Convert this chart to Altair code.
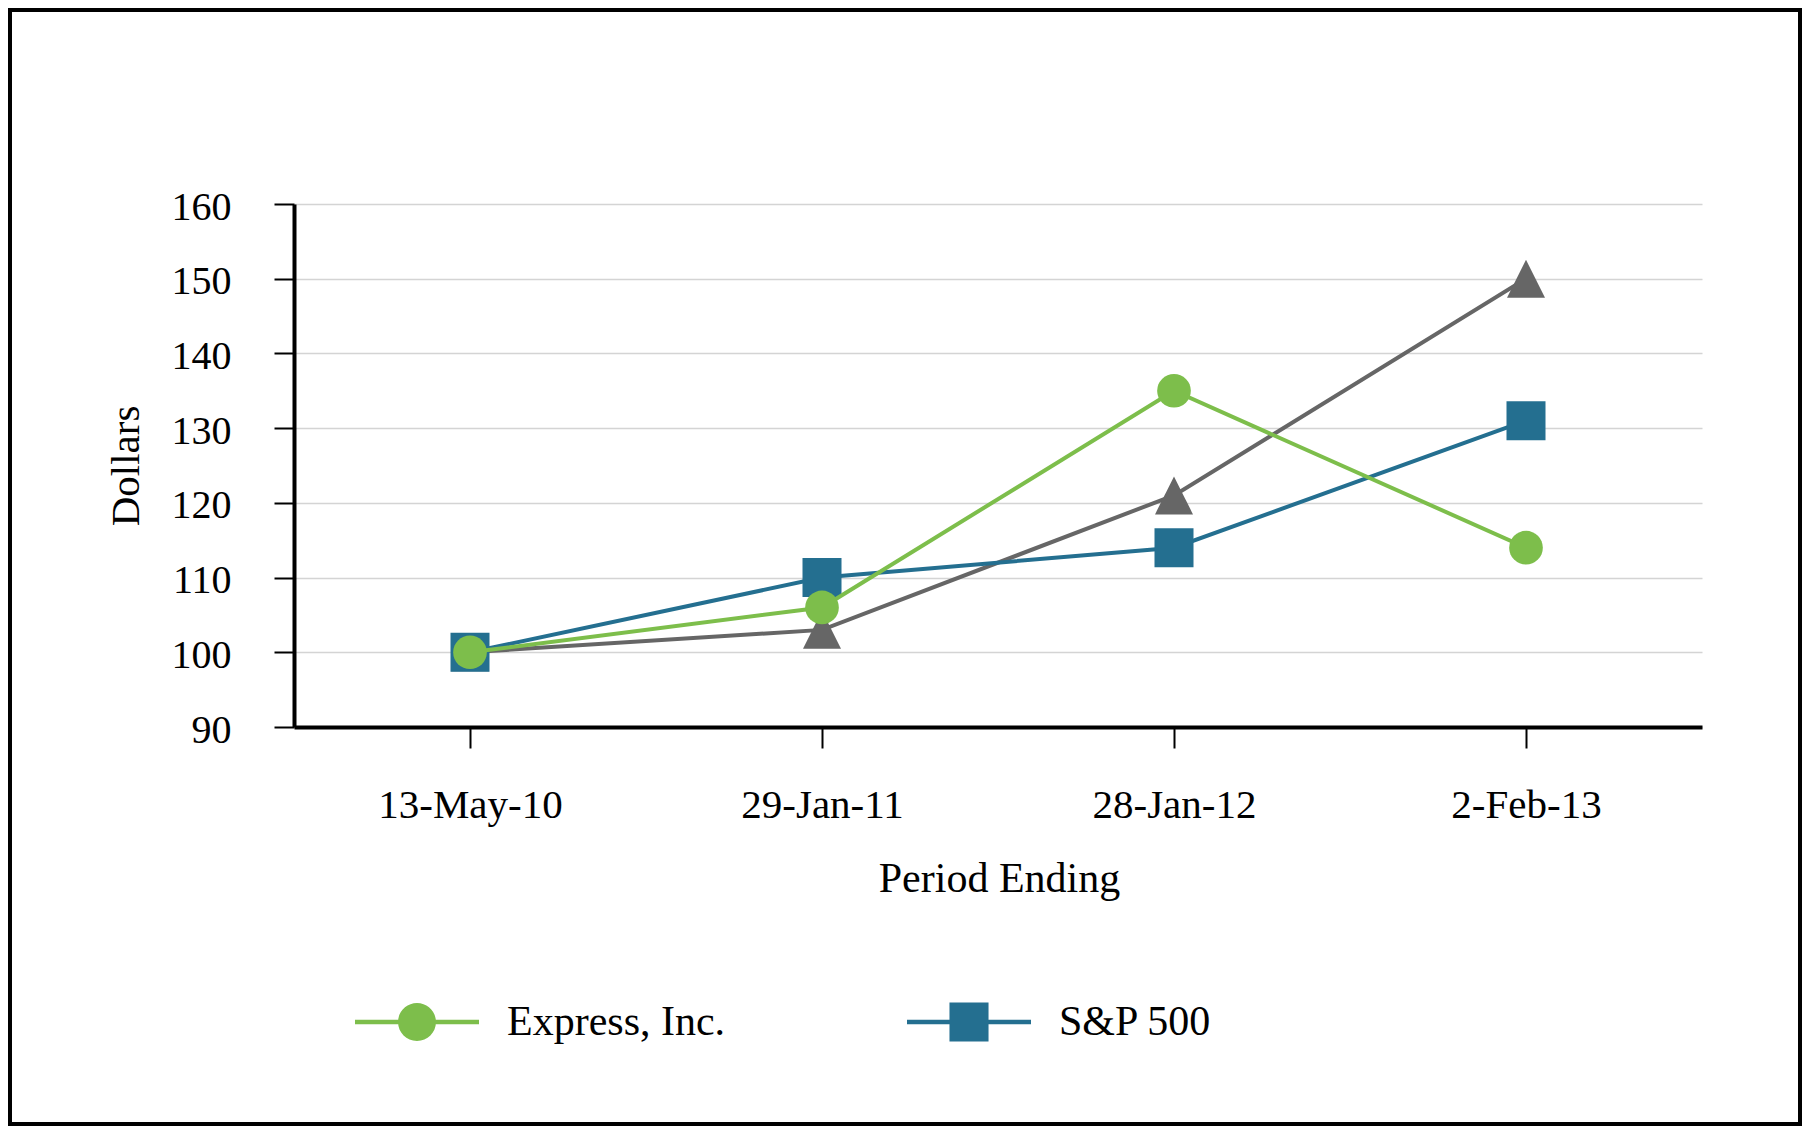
import altair as alt
import pandas as pd

# ---- data ----
periods = ["13-May-10", "29-Jan-11", "28-Jan-12", "2-Feb-13"]
express = [100, 106, 135, 114]
sp500 = [100, 110, 114, 131]
peer = [100, 103, 121, 150]
legend_names = ["Express, Inc.", "S&P 500"]

GREEN = "#7DBE4B"
BLUE = "#246F90"
GRAY = "#666666"
FONT = "Liberation Serif"

rows = []
for name, vals in [("Peer Index", peer), ("S&P 500", sp500), ("Express, Inc.", express)]:
    for p, v in zip(periods, vals):
        rows.append({"series": name, "period": p, "value": v})
df = pd.DataFrame(rows)

W, H = 1408, 523
PL, PT, PR, PB = 286, 196, 100, 399

x = alt.X(
    "period:N",
    sort=periods,
    scale=alt.Scale(type="point", padding=0.5),
    axis=alt.Axis(
        title="Period Ending", labelAngle=0, labelFont=FONT, labelFontSize=41,
        labelColor="black", labelPadding=37, labelLimit=500, labelOverlap=False,
        tickSize=21, tickWidth=2, tickColor="black",
        domainColor="black", domainWidth=4, grid=False,
        titleFont=FONT, titleFontSize=42, titleFontWeight="normal", titleColor="black",
        titleX=705, titleY=164, titleBaseline="alphabetic", titleAlign="center",
    ),
)
y = alt.Y(
    "value:Q",
    scale=alt.Scale(domain=[90, 160], nice=False, zero=False),
    axis=alt.Axis(
        title="Dollars", values=[90, 100, 110, 120, 130, 140, 150, 160],
        labelFont=FONT, labelFontSize=40, labelColor="black", labelPadding=43,
        labelOffset=3, labelOverlap=False,
        tickSize=20, tickWidth=2, tickColor="black",
        domainColor="black", domainWidth=4,
        grid=True, gridColor="#d4d4d4", gridWidth=1.5,
        titleFont=FONT, titleFontSize=41, titleFontWeight="normal", titleColor="black",
        titleX=-156, titleY=261.5, titleAngle=270, titleBaseline="alphabetic",
        titleAlign="center",
    ),
)

TRI = "M0,-1L1,1L-1,1Z"
styles = [
    ("Peer Index", GRAY, TRI, 1444),
    ("S&P 500", BLUE, "square", 1521),
    ("Express, Inc.", GREEN, "circle", 1134),
]

layers = []
frame = alt.Chart(pd.DataFrame({"f": [0]})).mark_rect(
    fillOpacity=0, stroke="black", strokeWidth=4
).encode(
    x=alt.value(-PL + 2), x2=alt.value(W + PR - 2),
    y=alt.value(-PT + 2), y2=alt.value(H + PB - 2),
)
layers.append(frame)

for name, col, shp, sz in styles:
    base = alt.Chart(df).transform_filter(alt.datum.series == name)
    layers.append(base.mark_line(color=col, strokeWidth=4).encode(x=x, y=y))
    layers.append(
        base.mark_point(shape=shp, size=sz, filled=True, color=col, opacity=1, strokeWidth=0)
        .encode(x=x, y=y)
    )

# legend symbols: line with marker through the middle
PATH_E = ("M-1,-0.036H1V0.036H-1Z "
          "M0.306,0A0.306,0.306,0,1,1,-0.306,0A0.306,0.306,0,1,1,0.306,0Z")
PATH_S = "M-1,-0.036H1V0.036H-1Z M-0.315,-0.315H0.315V0.315H-0.315Z"

leg_cfg = dict(
    title=None, orient="none", legendX=61, legendY=756, direction="horizontal",
    labelFont=FONT, labelFontSize=42, labelColor="black", labelOffset=28,
    labelLimit=600, columnPadding=181, symbolSize=15376, symbolStrokeWidth=0,
    symbolOpacity=1, padding=0,
)
legend_layer = alt.Chart(pd.DataFrame({"series": legend_names})).transform_filter(
    "false"
).mark_point(filled=True, opacity=1).encode(
    color=alt.Color("series:N", scale=alt.Scale(domain=legend_names, range=[GREEN, BLUE]),
                    legend=alt.Legend(**leg_cfg)),
    shape=alt.Shape("series:N", scale=alt.Scale(domain=legend_names, range=[PATH_E, PATH_S]),
                    legend=alt.Legend(**leg_cfg)),
)
layers.append(legend_layer)

chart = (
    alt.layer(*layers)
    .properties(
        width=W, height=H,
        padding={"left": PL, "top": PT, "right": PR, "bottom": PB},
        autosize=alt.AutoSizeParams(type="none"),
        background="white",
    )
    .configure(font=FONT)
    .configure_view(strokeWidth=0, stroke="transparent")
)

chart.save("out.html", embed_options={"renderer": "svg", "actions": False})
